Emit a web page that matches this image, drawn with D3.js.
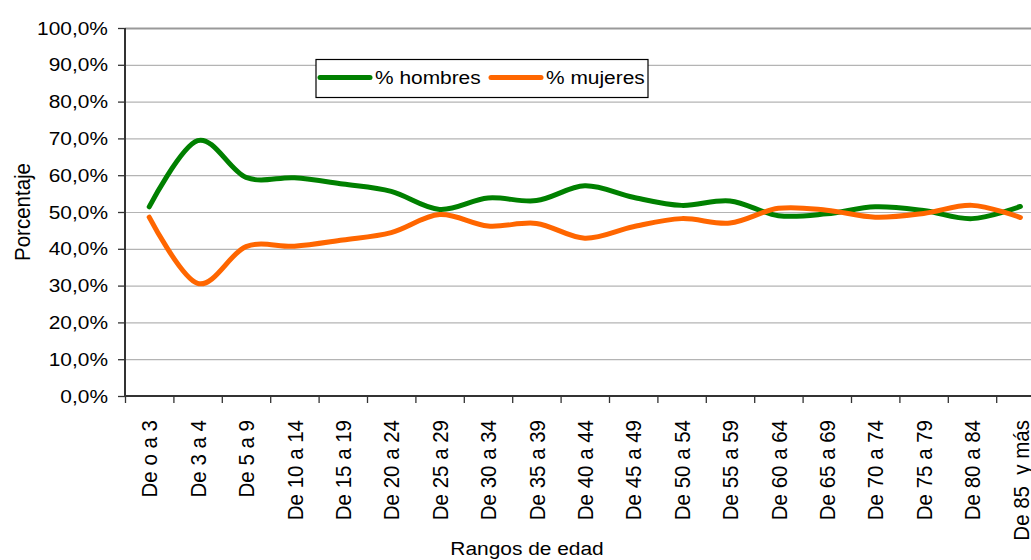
<!DOCTYPE html>
<html>
<head>
<meta charset="utf-8">
<script src="https://cdn.jsdelivr.net/npm/d3@7"></script>
<style>
  body { margin: 0; background: #fff; }
  svg { display: block; font-family: "Liberation Sans", Arial, sans-serif; }
  text { white-space: pre; }
</style>
</head>
<body>
<svg id="chart" width="1031" height="560"></svg>
<script>
// age ranges (x axis)
const categories = [
  'De o a 3', 'De 3 a 4', 'De 5 a 9', 'De 10 a 14', 'De 15 a 19', 'De 20 a 24',
  'De 25 a 29', 'De 30 a 34', 'De 35 a 39', 'De 40 a 44', 'De 45 a 49', 'De 50 a 54',
  'De 55 a 59', 'De 60 a 64', 'De 65 a 69', 'De 70 a 74', 'De 75 a 79', 'De 80 a 84',
  'De 85  y más',
];

// percentages
const hombres = [51.4, 69.4, 59.4, 59.3, 57.6, 55.6, 50.7, 53.8, 53.1, 57.1, 54.0, 51.8, 53.0, 49.0, 49.5, 51.4, 50.4, 48.2, 51.5];
const mujeres = [48.6, 30.6, 40.6, 40.7, 42.4, 44.4, 49.3, 46.2, 46.9, 42.9, 46.0, 48.2, 47.0, 51.0, 50.5, 48.6, 49.6, 51.8, 48.5];

const yTicks = [0, 10, 20, 30, 40, 50, 60, 70, 80, 90, 100];

const series = [
  { name: '% hombres', values: hombres, color: '#008000' },
  { name: '% mujeres', values: mujeres, color: '#ff6600' },
];

const svg = d3.select('#chart');
const plotLeft = 125;
const plotTop = 28;
const plotBottom = 396;
const step = 48.4;
const plotRight = plotLeft + step * categories.length; // runs past the right edge, like the original

const x = d3.scaleBand().domain(categories).range([plotLeft, plotRight]);
const xEdges = d3.scaleLinear().domain([0, categories.length]).range([plotLeft, plotRight]);
const y = d3.scaleLinear().domain([0, 100]).range([plotBottom, plotTop]);

const esLocale = d3.formatLocale({ decimal: ',', thousands: '.', grouping: [3], currency: ['', '€'] });
const fmt = esLocale.format('.1f');

// gridlines
const grid = svg.append('g')
  .attr('transform', `translate(${plotLeft},0)`)
  .call(d3.axisLeft(y).tickValues(yTicks.slice(1)).tickSize(-(plotRight - plotLeft)).tickFormat(''));
grid.select('.domain').remove();
grid.selectAll('line')
  .attr('stroke', d => (d === 100 ? '#999' : '#b4b4b4'))
  .attr('stroke-width', d => (d === 100 ? 2 : 1.2));

// y axis
const yAxis = svg.append('g')
  .attr('transform', `translate(${plotLeft},0)`)
  .call(d3.axisLeft(y).tickValues(yTicks).tickSize(7).tickPadding(8.5).tickFormat(d => `${fmt(d)}%`));
yAxis.select('.domain').attr('stroke', '#333').attr('stroke-width', 2).attr('d', `M0,${plotTop}V${plotBottom}`);
yAxis.selectAll('line').attr('stroke', '#333').attr('stroke-width', 1.3);
yAxis.selectAll('text')
  .attr('font-size', 19)
  .attr('fill', '#000')
  .attr('font-family', '"Liberation Sans", Arial, sans-serif')
  .attr('transform', 'scale(1.1,1)');

// x axis: tick marks on the category edges
const xAxis = svg.append('g')
  .attr('transform', `translate(0,${plotBottom})`)
  .call(d3.axisBottom(xEdges).tickValues(d3.range(categories.length + 1)).tickSize(7).tickFormat(''));
xAxis.select('.domain').attr('stroke', '#333').attr('stroke-width', 2).attr('d', `M${plotLeft},0H${plotRight}`);
xAxis.selectAll('line').attr('stroke', '#333').attr('stroke-width', 1.3);

// category labels, rotated
svg.append('g')
  .selectAll('text')
  .data(categories)
  .join('text')
  .attr('transform', d => `translate(${x(d) + x.bandwidth() / 2},420) scale(1.1,1) rotate(-90)`)
  .attr('dy', '0.36em')
  .attr('text-anchor', 'end')
  .attr('font-size', 20.5)
  .text(d => d);

// lines
const line = d3.line()
  .x((d, i) => x(categories[i]) + x.bandwidth() / 2)
  .y(d => y(d))
  .curve(d3.curveCardinal.tension(0));

svg.append('g')
  .selectAll('path')
  .data(series)
  .join('path')
  .attr('d', d => line(d.values))
  .attr('fill', 'none')
  .attr('stroke', d => d.color)
  .attr('stroke-width', 5)
  .attr('stroke-linecap', 'round')
  .attr('stroke-linejoin', 'round');

// axis titles
svg.append('text')
  .attr('transform', 'translate(22,212) scale(1.1,1) rotate(-90)')
  .attr('dy', '0.36em')
  .attr('text-anchor', 'middle')
  .attr('font-size', 20.5)
  .text('Porcentaje');

svg.append('text')
  .attr('transform', 'translate(527,555) scale(1.1,1)')
  .attr('text-anchor', 'middle')
  .attr('font-size', 19)
  .text('Rangos de edad');

// legend
const legend = svg.append('g');
legend.append('rect')
  .attr('x', 316).attr('y', 59.5)
  .attr('width', 332).attr('height', 38)
  .attr('fill', '#fff').attr('stroke', '#000').attr('stroke-width', 1.2);

const legendX = [320, 491];
const items = legend.selectAll('g.item')
  .data(series)
  .join('g')
  .attr('class', 'item')
  .attr('transform', (d, i) => `translate(${legendX[i]},77.5)`);
items.append('line')
  .attr('x1', 0).attr('x2', 50)
  .attr('stroke', d => d.color)
  .attr('stroke-width', 5)
  .attr('stroke-linecap', 'round');
items.append('text')
  .attr('transform', 'translate(55,0) scale(1.1,1)')
  .attr('dy', '0.36em')
  .attr('font-size', 19)
  .text(d => d.name);
</script>
</body>
</html>
